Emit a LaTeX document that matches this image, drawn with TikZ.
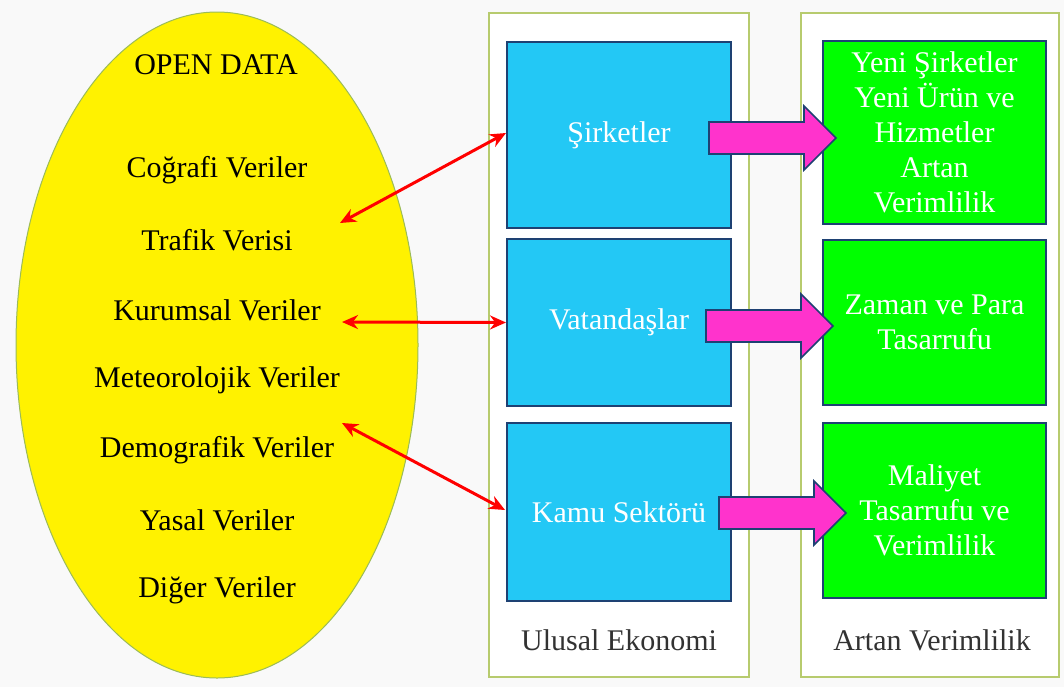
\documentclass[tikz,border=0pt]{standalone}
\usepackage{fontspec}
\setmainfont{Liberation Serif}
\usetikzlibrary{shapes.geometric,arrows.meta,calc,positioning}

\definecolor{bggray}{RGB}{249,249,249}
\definecolor{olivefr}{RGB}{183,203,110}
\definecolor{olivedge}{RGB}{155,187,89}
\definecolor{skyfill}{RGB}{35,200,245}
\definecolor{limefill}{RGB}{0,255,0}
\definecolor{pinkfill}{RGB}{255,51,204}
\definecolor{navyline}{RGB}{30,65,115}
\definecolor{captext}{RGB}{50,50,50}

\begin{document}
\begin{tikzpicture}[x=0.5pt, y=-0.5pt, font=\fontsize{15}{17.5}\selectfont,
   frame/.style={draw=olivefr, line width=1pt, fill=white, inner sep=0pt, minimum height=332pt},
   sector/.style={draw=navyline, line width=1pt, fill=skyfill, text=white, minimum width=112pt, inner sep=0pt, align=center},
   gain/.style={draw=navyline, line width=1pt, fill=limefill, text=white, minimum width=111.5pt, inner sep=0pt, align=center},
   caption/.style={text=captext},
   link/.style={red, line width=1.5pt, {Stealth[length=8pt,width=7pt]}-{Stealth[length=8pt,width=7pt]}},
   push/.style={draw=navyline, line width=0.8pt, fill=pinkfill, line join=miter}]
   \useasboundingbox[fill=bggray] (0,0) rectangle (1064,687);

   % open data
   \node[ellipse, draw=olivedge, line width=0.5pt, fill=yellow, minimum width=201pt, minimum height=333pt] (data) at (217,345) {};
   \node (open)  at (216,65)  {OPEN DATA};
   \node (cog)   at (217,170) {Coğrafi Veriler};
   \node (traf)  at (217,240) {Trafik Verisi};
   \node (kur)   at (217,310) {Kurumsal Veriler};
   \node (met)   at (217,380) {Meteorolojik Veriler};
   \node (dem)   at (217,450) {Demografik Veriler};
   \node (yasal) at (217,520) {Yasal Veriler};
   \node (diger) at (217,590) {Diğer Veriler};

   % frames
   \node[frame, minimum width=130pt] (eco) at (619,345) {};
   \node[frame, minimum width=129pt] (ver) at (930,345) {};
   \node[caption] (ecocap) at (619,640) {Ulusal Ekonomi};
   \node[caption] (vercap) at (932,640) {Artan Verimlilik};

   % actors
   \node[sector, minimum height=93pt]   (sirket) at (619,135)   {Şirketler};
   \node[sector, minimum height=83.5pt] (vatan)  at (619,322.5) {Vatandaşlar};
   \node[sector, minimum height=89pt]   (kamu)   at (619,512)   {Kamu Sektörü};

   % outcomes
   \node[gain, minimum height=91.5pt] (yeni)  at (934.5,132.5) {Yeni Şirketler\\Yeni Ürün ve\\Hizmetler\\Artan\\Verimlilik};
   \node[gain, minimum height=82.5pt] (zaman) at (934.5,322.5) {Zaman ve Para\\Tasarrufu};
   \node[gain, minimum height=87.5pt] (mal)   at (934.5,510.5) {Maliyet\\Tasarrufu ve\\Verimlilik};

   % block arrows
   \foreach \n/\dx/\dy in {sirket/-23/3, vatan/-26/3.5, kamu/-13/1}
      \draw[push] ($(\n.east)+(\dx,\dy-16)$) -- ++(95,0) -- ++(0,-16) -- ++(32,32)
                  -- ++(-32,32) -- ++(0,-16) -- ++(-95,0) -- cycle;

   % links
   \coordinate (t1) at (340,223);
   \coordinate (t2) at (342,322);
   \coordinate (t3) at (342,423);
   \draw[link] (t1) -- ($(sirket.west)+(0,-2)$);
   \draw[link] (t2) -- (vatan.west);
   \draw[link] (t3) -- ($(kamu.west)+(-1,-2)$);
\end{tikzpicture}
\end{document}
